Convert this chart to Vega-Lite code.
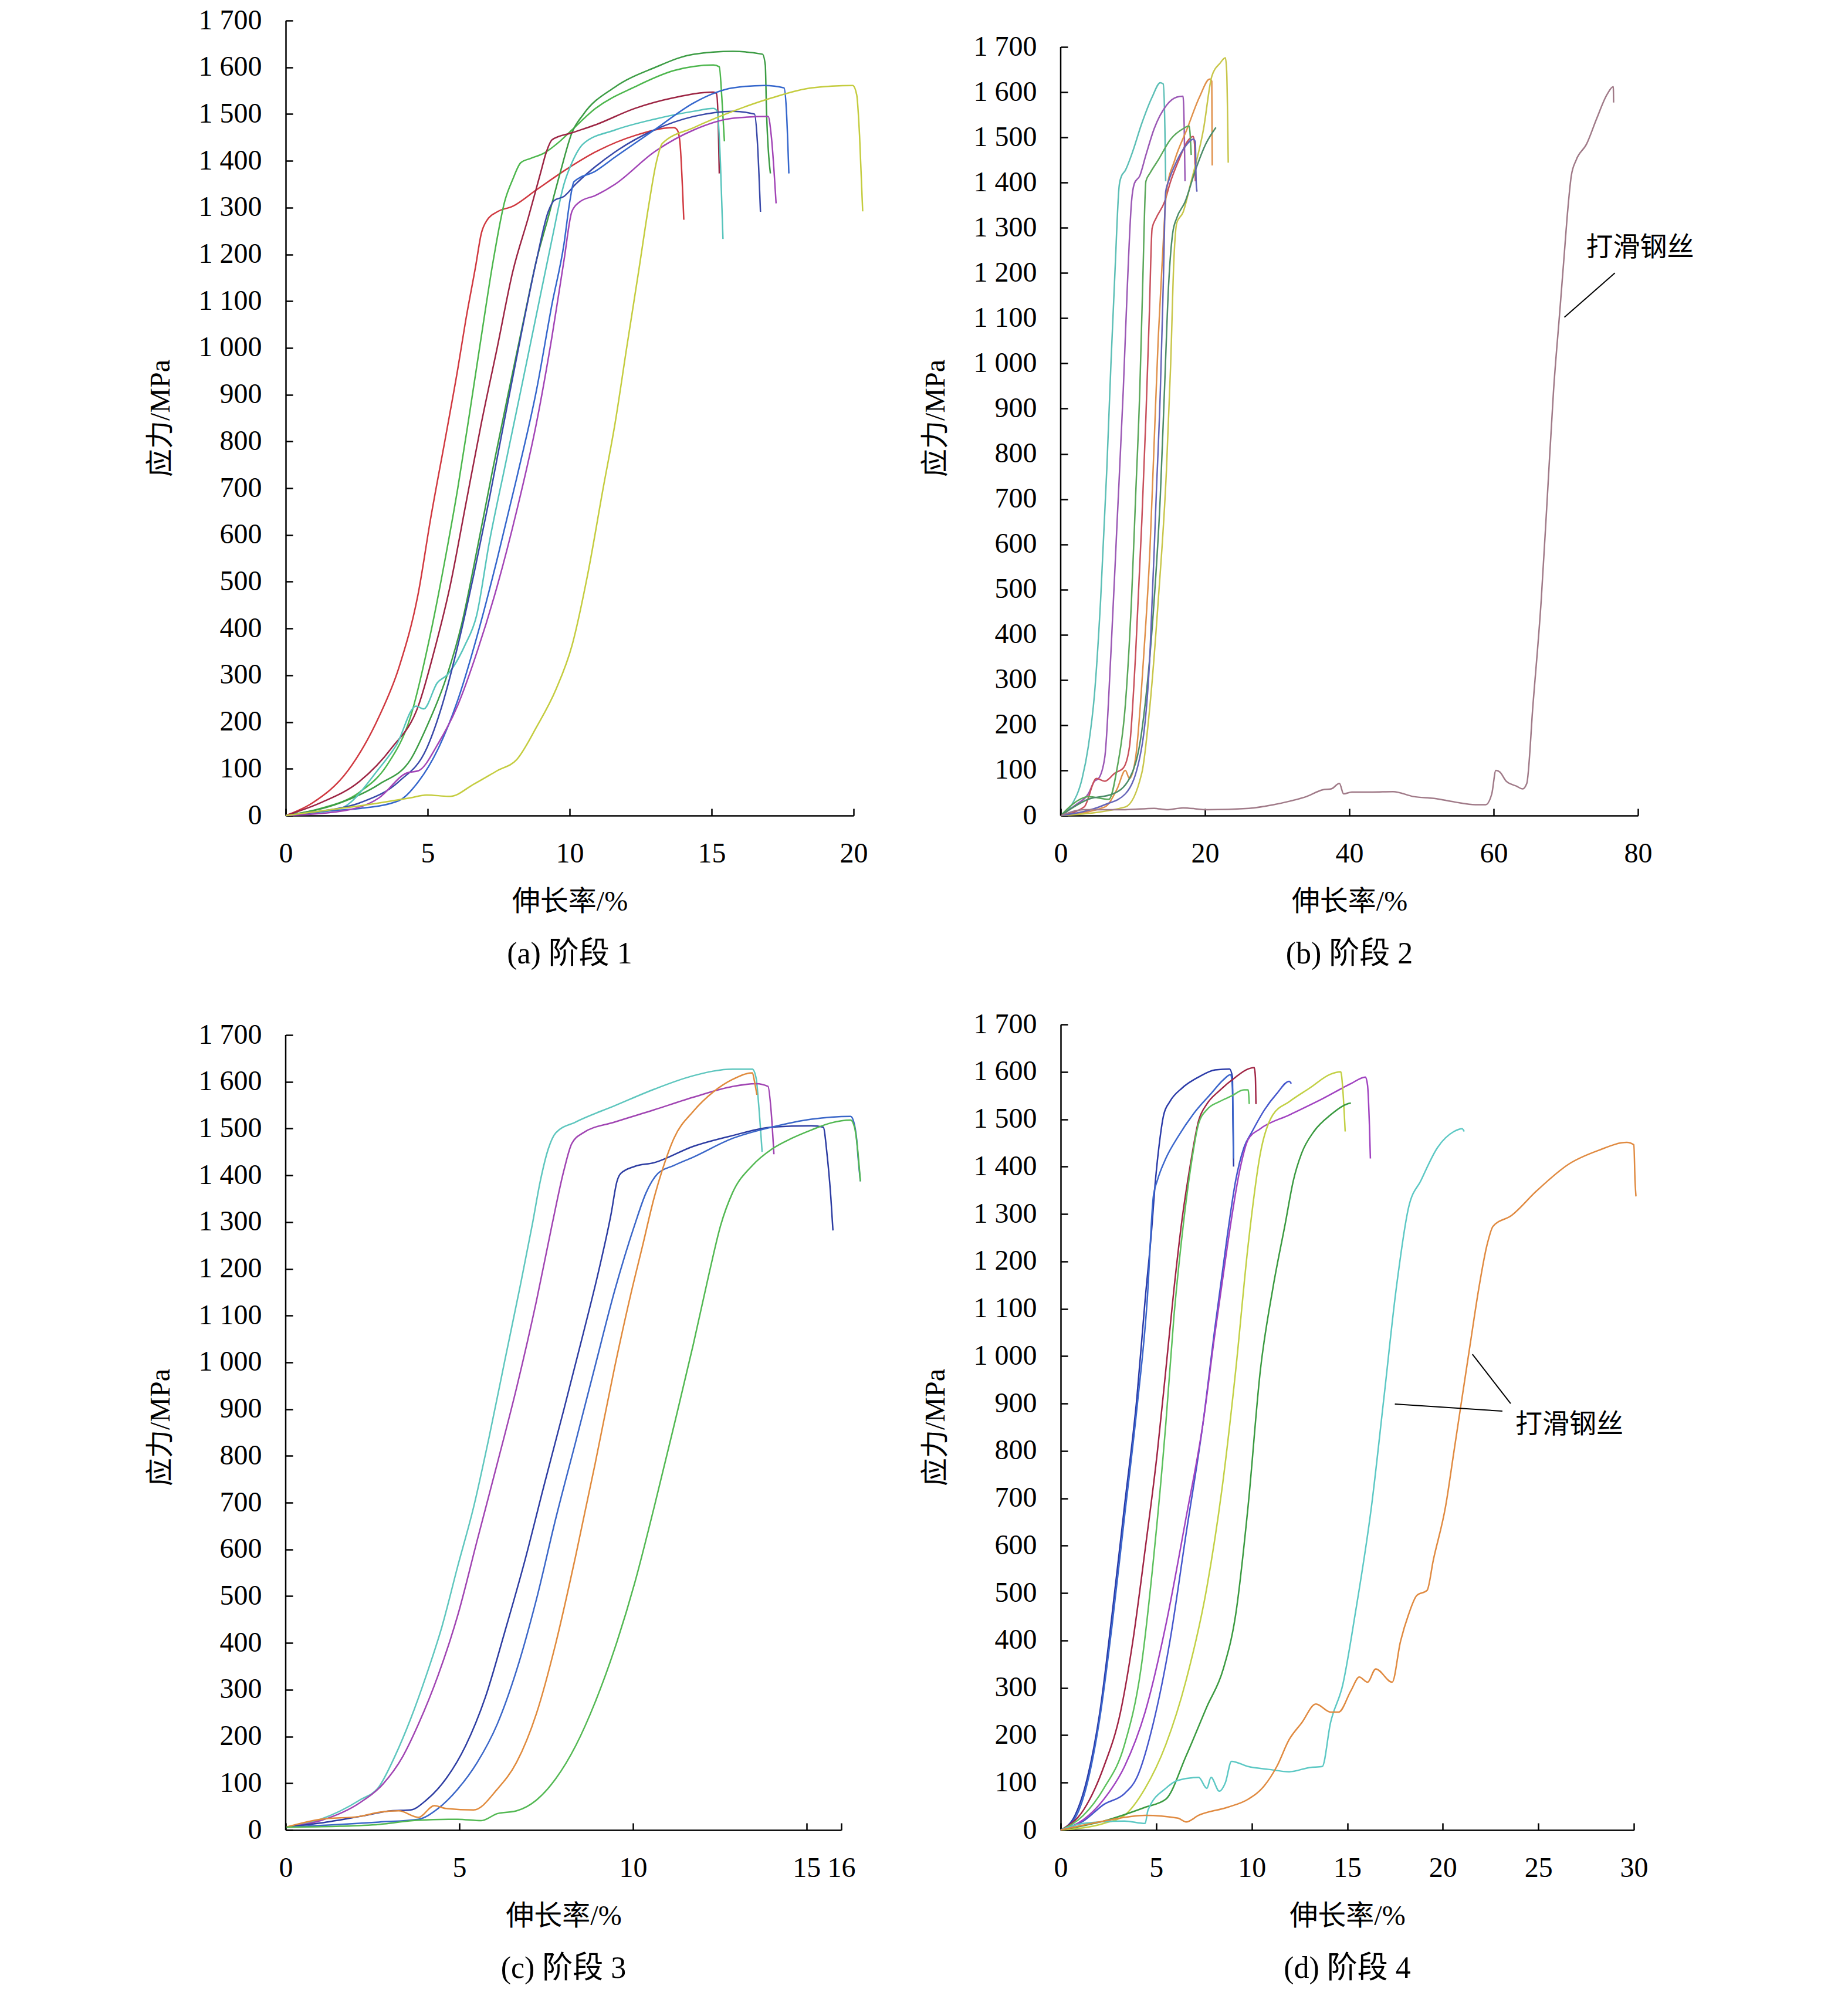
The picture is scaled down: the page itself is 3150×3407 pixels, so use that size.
{
  "$schema": "https://vega.github.io/schema/vega-lite/v6.json",
  "background": "white",
  "padding": {"left": 250, "top": 11, "right": 10, "bottom": 10},
  "columns": 2,
  "spacing": {"row": 70, "column": 92},
  "resolve": {"scale": {"color": "independent", "x": "independent", "y": "independent"}},
  "config": {
    "view": {"stroke": null},
    "font": "Liberation Serif",
    "axis": {
      "domainColor": "black", "domainWidth": 2.5,
      "tickColor": "black", "tickWidth": 2.5, "tickSize": -12,
      "labelPadding": 53, "labelFontSize": 48, "labelFont": "Liberation Serif", "labelColor": "black",
      "labelFlush": false, "labelOverlap": false, "grid": false,
      "titleFont": "Liberation Serif, Noto Sans CJK SC", "titleFontSize": 48, "titleFontWeight": "normal", "titleColor": "black"
    },
    "axisX": {"titlePadding": 34, "format": "d"},
    "axisY": {"titlePadding": 40},
    "title": {"orient": "bottom", "frame": "group", "fontSize": 52, "fontWeight": "normal", "font": "Liberation Serif, Noto Sans CJK SC", "color": "black", "offset": 40},
    "line": {"interpolate": "monotone", "strokeWidth": 2.5},
    "text": {"font": "Noto Sans CJK SC", "fontSize": 46, "color": "black"}
  },
  "concat": [
    {
      "width": 968, "height": 1355,
      "title": "(a) 阶段 1",
      "data": {"name": "a"},
      "mark": {"type": "line"},
      "encoding": {
        "x": {"field": "x", "type": "quantitative", "scale": {"domain": [0, 20], "nice": false}, "axis": {"values": [0, 5, 10, 15, 20], "title": "伸长率/%"}},
        "y": {"field": "y", "type": "quantitative", "scale": {"domain": [0, 1700], "nice": false}, "axis": {"values": [0, 100, 200, 300, 400, 500, 600, 700, 800, 900, 1000, 1100, 1200, 1300, 1400, 1500, 1600, 1700], "title": "应力/MPa", "labelExpr": "datum.value >= 1000 ? '1 ' + format(datum.value - 1000, '03d') : format(datum.value, 'd')"}},
        "color": {"field": "s", "type": "nominal", "legend": null, "scale": {
          "domain": ["red", "maroon", "greenA", "greenB", "cyan", "navy", "blue", "purple", "yellow"],
          "range": ["#d0383f", "#9c2443", "#4cb64c", "#3c9c44", "#56c4bc", "#3848a8", "#3466cc", "#a244b6", "#c4cc3e"]}},
        "order": {"value": null}
      }
    },
    {
      "width": 984, "height": 1355,
      "title": "(b) 阶段 2",
      "layer": [
        {
          "data": {"name": "b"},
          "mark": {"type": "line"},
          "encoding": {
            "x": {"field": "x", "type": "quantitative", "scale": {"domain": [0, 80], "nice": false}, "axis": {"values": [0, 20, 40, 60, 80], "title": "伸长率/%"}},
            "y": {"field": "y", "type": "quantitative", "scale": {"domain": [0, 1758.4], "nice": false}, "axis": {"domain": false, "values": [0, 100, 200, 300, 400, 500, 600, 700, 800, 900, 1000, 1100, 1200, 1300, 1400, 1500, 1600, 1700], "title": "应力/MPa", "labelExpr": "datum.value >= 1000 ? '1 ' + format(datum.value - 1000, '03d') : format(datum.value, 'd')"}},
            "color": {"field": "s", "type": "nominal", "legend": null, "scale": {
              "domain": ["cyan", "purple", "red", "orange", "yellow", "green", "dkgreen", "blue", "slip"],
              "range": ["#5cbfb6", "#9b58b5", "#c8505c", "#e0904a", "#c8c64a", "#5aa85a", "#4c8c68", "#6464b8", "#a07a88"]}},
            "order": {"value": null}
          }
        },
        {
          "data": {"values": [{"x": 0, "y": 0, "y2": 1700}]},
          "mark": {"type": "rule", "strokeWidth": 2.5, "color": "black"},
          "encoding": {"x": {"field": "x", "type": "quantitative"}, "y": {"field": "y", "type": "quantitative"}, "y2": {"field": "y2"}}
        },
        {
          "data": {"values": [{"x": 76.8, "y": 1200, "x2": 69.8, "y2": 1102}]},
          "mark": {"type": "rule", "strokeWidth": 2, "color": "black"},
          "encoding": {"x": {"field": "x", "type": "quantitative"}, "y": {"field": "y", "type": "quantitative"}, "x2": {"field": "x2"}, "y2": {"field": "y2"}}
        },
        {
          "data": {"values": [{"x": 72.8, "y": 1256, "t": "打滑钢丝"}]},
          "mark": {"type": "text", "align": "left", "baseline": "middle"},
          "encoding": {"x": {"field": "x", "type": "quantitative"}, "y": {"field": "y", "type": "quantitative"}, "text": {"field": "t"}}
        }
      ]
    },
    {
      "width": 947, "height": 1373,
      "title": "(c) 阶段 3",
      "layer": [
        {
          "data": {"name": "c"},
          "mark": {"type": "line"},
          "encoding": {
            "x": {"field": "x", "type": "quantitative", "scale": {"domain": [0, 16], "nice": false}, "axis": {"values": [0, 5, 10, 15, 16], "title": "伸长率/%"}},
            "y": {"field": "y", "type": "quantitative", "scale": {"domain": [0, 1722.6], "nice": false}, "axis": {"domain": false, "values": [0, 100, 200, 300, 400, 500, 600, 700, 800, 900, 1000, 1100, 1200, 1300, 1400, 1500, 1600, 1700], "title": "应力/MPa", "labelExpr": "datum.value >= 1000 ? '1 ' + format(datum.value - 1000, '03d') : format(datum.value, 'd')"}},
            "color": {"field": "s", "type": "nominal", "legend": null, "scale": {
              "domain": ["cyan", "purple", "navy", "blue", "orange", "green"],
              "range": ["#5ec6be", "#a044b2", "#2c3ca2", "#3a66c8", "#e08a3c", "#52b852"]}},
            "order": {"value": null}
          }
        },
        {
          "data": {"values": [{"x": 0, "y": 0, "y2": 1700}]},
          "mark": {"type": "rule", "strokeWidth": 2.5, "color": "black"},
          "encoding": {"x": {"field": "x", "type": "quantitative"}, "y": {"field": "y", "type": "quantitative"}, "y2": {"field": "y2"}}
        }
      ]
    },
    {
      "width": 977, "height": 1373,
      "title": "(d) 阶段 4",
      "layer": [
        {
          "data": {"name": "d"},
          "mark": {"type": "line"},
          "encoding": {
            "x": {"field": "x", "type": "quantitative", "scale": {"domain": [0, 30], "nice": false}, "axis": {"values": [0, 5, 10, 15, 20, 25, 30], "title": "伸长率/%"}},
            "y": {"field": "y", "type": "quantitative", "scale": {"domain": [0, 1700], "nice": false}, "axis": {"values": [0, 100, 200, 300, 400, 500, 600, 700, 800, 900, 1000, 1100, 1200, 1300, 1400, 1500, 1600, 1700], "title": "应力/MPa", "labelExpr": "datum.value >= 1000 ? '1 ' + format(datum.value - 1000, '03d') : format(datum.value, 'd')"}},
            "color": {"field": "s", "type": "nominal", "legend": null, "scale": {
              "domain": ["navy", "blue", "maroon", "ltgreen", "blue2", "purple", "yellow", "green", "cyan", "orange"],
              "range": ["#2a3aa8", "#3a66cc", "#a02444", "#5cc05c", "#4456cc", "#a042c0", "#c2d044", "#3a9a40", "#5cc8c4", "#e08a40"]}},
            "order": {"value": null}
          }
        },
        {
          "data": {"values": [{"x": 17.49, "y": 899, "x2": 23.12, "y2": 884}, {"x": 21.55, "y": 1004, "x2": 23.55, "y2": 900}]},
          "mark": {"type": "rule", "strokeWidth": 2, "color": "black"},
          "encoding": {"x": {"field": "x", "type": "quantitative"}, "y": {"field": "y", "type": "quantitative"}, "x2": {"field": "x2"}, "y2": {"field": "y2"}}
        },
        {
          "data": {"values": [{"x": 23.8, "y": 855, "t": "打滑钢丝"}]},
          "mark": {"type": "text", "align": "left", "baseline": "middle"},
          "encoding": {"x": {"field": "x", "type": "quantitative"}, "y": {"field": "y", "type": "quantitative"}, "text": {"field": "t"}}
        }
      ]
    }
  ],
  "datasets": {
    "a": [
      {"s": "red", "x": 0, "y": 0}, {"s": "red", "x": 0.94, "y": 27}, {"s": "red", "x": 2.19, "y": 96}, {"s": "red", "x": 3.29, "y": 212}, {"s": "red", "x": 3.99, "y": 317}, {"s": "red", "x": 4.68, "y": 479}, {"s": "red", "x": 5.09, "y": 630}, {"s": "red", "x": 5.65, "y": 816}, {"s": "red", "x": 6.06, "y": 955}, {"s": "red", "x": 6.34, "y": 1059}, {"s": "red", "x": 6.69, "y": 1175}, {"s": "red", "x": 6.89, "y": 1245}, {"s": "red", "x": 7.1, "y": 1274}, {"s": "red", "x": 7.45, "y": 1291}, {"s": "red", "x": 8.0, "y": 1303}, {"s": "red", "x": 8.83, "y": 1338}, {"s": "red", "x": 9.94, "y": 1384}, {"s": "red", "x": 10.91, "y": 1419}, {"s": "red", "x": 12.29, "y": 1454}, {"s": "red", "x": 13.67, "y": 1471}, {"s": "red", "x": 13.79, "y": 1466}, {"s": "red", "x": 13.88, "y": 1442}, {"s": "red", "x": 14.02, "y": 1274},
      {"s": "greenA", "x": 0, "y": 0}, {"s": "greenA", "x": 1.22, "y": 15}, {"s": "greenA", "x": 2.6, "y": 50}, {"s": "greenA", "x": 3.57, "y": 108}, {"s": "greenA", "x": 4.4, "y": 212}, {"s": "greenA", "x": 5.09, "y": 386}, {"s": "greenA", "x": 5.65, "y": 560}, {"s": "greenA", "x": 6.06, "y": 700}, {"s": "greenA", "x": 6.48, "y": 862}, {"s": "greenA", "x": 6.89, "y": 1025}, {"s": "greenA", "x": 7.31, "y": 1187}, {"s": "greenA", "x": 7.72, "y": 1315}, {"s": "greenA", "x": 8.0, "y": 1361}, {"s": "greenA", "x": 8.28, "y": 1396}, {"s": "greenA", "x": 8.62, "y": 1405}, {"s": "greenA", "x": 9.11, "y": 1417}, {"s": "greenA", "x": 9.66, "y": 1442}, {"s": "greenA", "x": 10.08, "y": 1466}, {"s": "greenA", "x": 10.91, "y": 1512}, {"s": "greenA", "x": 12.29, "y": 1558}, {"s": "greenA", "x": 13.67, "y": 1593}, {"s": "greenA", "x": 15.06, "y": 1605}, {"s": "greenA", "x": 15.27, "y": 1601}, {"s": "greenA", "x": 15.36, "y": 1535}, {"s": "greenA", "x": 15.45, "y": 1442},
      {"s": "greenB", "x": 0, "y": 0}, {"s": "greenB", "x": 1.91, "y": 27}, {"s": "greenB", "x": 3.29, "y": 67}, {"s": "greenB", "x": 4.4, "y": 120}, {"s": "greenB", "x": 4.96, "y": 189}, {"s": "greenB", "x": 5.65, "y": 294}, {"s": "greenB", "x": 6.2, "y": 410}, {"s": "greenB", "x": 6.75, "y": 572}, {"s": "greenB", "x": 7.31, "y": 746}, {"s": "greenB", "x": 7.86, "y": 909}, {"s": "greenB", "x": 8.42, "y": 1071}, {"s": "greenB", "x": 8.83, "y": 1187}, {"s": "greenB", "x": 9.25, "y": 1280}, {"s": "greenB", "x": 9.66, "y": 1373}, {"s": "greenB", "x": 10.08, "y": 1460}, {"s": "greenB", "x": 10.49, "y": 1500}, {"s": "greenB", "x": 11.6, "y": 1558}, {"s": "greenB", "x": 12.98, "y": 1599}, {"s": "greenB", "x": 14.37, "y": 1628}, {"s": "greenB", "x": 15.75, "y": 1634}, {"s": "greenB", "x": 16.79, "y": 1628}, {"s": "greenB", "x": 16.89, "y": 1605}, {"s": "greenB", "x": 16.93, "y": 1512}, {"s": "greenB", "x": 17.07, "y": 1373},
      {"s": "maroon", "x": 0, "y": 0}, {"s": "maroon", "x": 1.22, "y": 27}, {"s": "maroon", "x": 2.6, "y": 73}, {"s": "maroon", "x": 3.71, "y": 143}, {"s": "maroon", "x": 4.68, "y": 236}, {"s": "maroon", "x": 5.23, "y": 352}, {"s": "maroon", "x": 5.79, "y": 491}, {"s": "maroon", "x": 6.34, "y": 665}, {"s": "maroon", "x": 6.89, "y": 839}, {"s": "maroon", "x": 7.45, "y": 1001}, {"s": "maroon", "x": 8.0, "y": 1164}, {"s": "maroon", "x": 8.55, "y": 1280}, {"s": "maroon", "x": 8.97, "y": 1373}, {"s": "maroon", "x": 9.18, "y": 1419}, {"s": "maroon", "x": 9.38, "y": 1445}, {"s": "maroon", "x": 10.08, "y": 1460}, {"s": "maroon", "x": 10.91, "y": 1477}, {"s": "maroon", "x": 12.29, "y": 1512}, {"s": "maroon", "x": 13.67, "y": 1535}, {"s": "maroon", "x": 15.06, "y": 1547}, {"s": "maroon", "x": 15.17, "y": 1544}, {"s": "maroon", "x": 15.23, "y": 1489}, {"s": "maroon", "x": 15.27, "y": 1373},
      {"s": "cyan", "x": 0, "y": 0}, {"s": "cyan", "x": 1.91, "y": 15}, {"s": "cyan", "x": 3.28, "y": 100}, {"s": "cyan", "x": 3.9, "y": 151}, {"s": "cyan", "x": 4.59, "y": 234}, {"s": "cyan", "x": 4.86, "y": 228}, {"s": "cyan", "x": 5.34, "y": 284}, {"s": "cyan", "x": 5.69, "y": 301}, {"s": "cyan", "x": 6.31, "y": 364}, {"s": "cyan", "x": 6.72, "y": 427}, {"s": "cyan", "x": 7.17, "y": 584}, {"s": "cyan", "x": 7.72, "y": 746}, {"s": "cyan", "x": 8.28, "y": 909}, {"s": "cyan", "x": 8.83, "y": 1071}, {"s": "cyan", "x": 9.38, "y": 1233}, {"s": "cyan", "x": 9.8, "y": 1350}, {"s": "cyan", "x": 10.08, "y": 1396}, {"s": "cyan", "x": 10.49, "y": 1437}, {"s": "cyan", "x": 11.6, "y": 1466}, {"s": "cyan", "x": 12.98, "y": 1489}, {"s": "cyan", "x": 14.37, "y": 1506}, {"s": "cyan", "x": 15.06, "y": 1512}, {"s": "cyan", "x": 15.2, "y": 1506}, {"s": "cyan", "x": 15.31, "y": 1396}, {"s": "cyan", "x": 15.4, "y": 1233},
      {"s": "navy", "x": 0, "y": 0}, {"s": "navy", "x": 1.22, "y": 9}, {"s": "navy", "x": 2.6, "y": 27}, {"s": "navy", "x": 3.99, "y": 73}, {"s": "navy", "x": 4.96, "y": 143}, {"s": "navy", "x": 5.51, "y": 236}, {"s": "navy", "x": 6.06, "y": 363}, {"s": "navy", "x": 6.62, "y": 514}, {"s": "navy", "x": 7.17, "y": 677}, {"s": "navy", "x": 7.72, "y": 851}, {"s": "navy", "x": 8.28, "y": 1025}, {"s": "navy", "x": 8.83, "y": 1187}, {"s": "navy", "x": 9.25, "y": 1292}, {"s": "navy", "x": 9.45, "y": 1315}, {"s": "navy", "x": 9.8, "y": 1324}, {"s": "navy", "x": 10.21, "y": 1350}, {"s": "navy", "x": 11.6, "y": 1419}, {"s": "navy", "x": 12.98, "y": 1466}, {"s": "navy", "x": 14.37, "y": 1495}, {"s": "navy", "x": 15.75, "y": 1506}, {"s": "navy", "x": 16.51, "y": 1500}, {"s": "navy", "x": 16.61, "y": 1442}, {"s": "navy", "x": 16.72, "y": 1291},
      {"s": "blue", "x": 0, "y": 0}, {"s": "blue", "x": 1.22, "y": 9}, {"s": "blue", "x": 2.6, "y": 15}, {"s": "blue", "x": 3.99, "y": 32}, {"s": "blue", "x": 4.68, "y": 73}, {"s": "blue", "x": 5.37, "y": 143}, {"s": "blue", "x": 6.06, "y": 247}, {"s": "blue", "x": 6.75, "y": 386}, {"s": "blue", "x": 7.45, "y": 549}, {"s": "blue", "x": 8.14, "y": 723}, {"s": "blue", "x": 8.83, "y": 909}, {"s": "blue", "x": 9.38, "y": 1094}, {"s": "blue", "x": 9.8, "y": 1222}, {"s": "blue", "x": 10.01, "y": 1315}, {"s": "blue", "x": 10.15, "y": 1355}, {"s": "blue", "x": 10.91, "y": 1378}, {"s": "blue", "x": 11.6, "y": 1408}, {"s": "blue", "x": 12.98, "y": 1466}, {"s": "blue", "x": 14.37, "y": 1524}, {"s": "blue", "x": 15.06, "y": 1544}, {"s": "blue", "x": 15.75, "y": 1556}, {"s": "blue", "x": 16.86, "y": 1561}, {"s": "blue", "x": 17.55, "y": 1556}, {"s": "blue", "x": 17.63, "y": 1512}, {"s": "blue", "x": 17.72, "y": 1373},
      {"s": "purple", "x": 0, "y": 0}, {"s": "purple", "x": 1.91, "y": 9}, {"s": "purple", "x": 3.29, "y": 38}, {"s": "purple", "x": 4.26, "y": 91}, {"s": "purple", "x": 4.68, "y": 96}, {"s": "purple", "x": 5.37, "y": 154}, {"s": "purple", "x": 6.06, "y": 236}, {"s": "purple", "x": 6.75, "y": 352}, {"s": "purple", "x": 7.45, "y": 491}, {"s": "purple", "x": 8.14, "y": 653}, {"s": "purple", "x": 8.83, "y": 839}, {"s": "purple", "x": 9.38, "y": 1025}, {"s": "purple", "x": 9.8, "y": 1187}, {"s": "purple", "x": 10.08, "y": 1292}, {"s": "purple", "x": 10.35, "y": 1312}, {"s": "purple", "x": 10.91, "y": 1326}, {"s": "purple", "x": 11.6, "y": 1350}, {"s": "purple", "x": 12.98, "y": 1419}, {"s": "purple", "x": 14.37, "y": 1466}, {"s": "purple", "x": 15.75, "y": 1491}, {"s": "purple", "x": 16.99, "y": 1495}, {"s": "purple", "x": 17.1, "y": 1454}, {"s": "purple", "x": 17.27, "y": 1309},
      {"s": "yellow", "x": 0, "y": 0}, {"s": "yellow", "x": 1.91, "y": 15}, {"s": "yellow", "x": 3.29, "y": 27}, {"s": "yellow", "x": 4.4, "y": 38}, {"s": "yellow", "x": 4.96, "y": 44}, {"s": "yellow", "x": 5.79, "y": 41}, {"s": "yellow", "x": 6.62, "y": 67}, {"s": "yellow", "x": 7.45, "y": 96}, {"s": "yellow", "x": 8.14, "y": 120}, {"s": "yellow", "x": 8.83, "y": 189}, {"s": "yellow", "x": 9.52, "y": 270}, {"s": "yellow", "x": 10.08, "y": 363}, {"s": "yellow", "x": 10.63, "y": 514}, {"s": "yellow", "x": 11.18, "y": 700}, {"s": "yellow", "x": 11.6, "y": 839}, {"s": "yellow", "x": 12.01, "y": 1001}, {"s": "yellow", "x": 12.43, "y": 1164}, {"s": "yellow", "x": 12.78, "y": 1303}, {"s": "yellow", "x": 13.05, "y": 1396}, {"s": "yellow", "x": 13.26, "y": 1437}, {"s": "yellow", "x": 14.37, "y": 1471}, {"s": "yellow", "x": 15.75, "y": 1506}, {"s": "yellow", "x": 17.14, "y": 1535}, {"s": "yellow", "x": 18.52, "y": 1556}, {"s": "yellow", "x": 19.97, "y": 1561}, {"s": "yellow", "x": 20.11, "y": 1541}, {"s": "yellow", "x": 20.21, "y": 1454}, {"s": "yellow", "x": 20.32, "y": 1292}
    ],
    "b": [
      {"s": "cyan", "x": 0, "y": 0}, {"s": "cyan", "x": 1.54, "y": 24}, {"s": "cyan", "x": 2.97, "y": 82}, {"s": "cyan", "x": 3.82, "y": 152}, {"s": "cyan", "x": 4.68, "y": 268}, {"s": "cyan", "x": 5.53, "y": 476}, {"s": "cyan", "x": 6.39, "y": 766}, {"s": "cyan", "x": 6.96, "y": 998}, {"s": "cyan", "x": 7.53, "y": 1206}, {"s": "cyan", "x": 8.1, "y": 1392}, {"s": "cyan", "x": 8.39, "y": 1413}, {"s": "cyan", "x": 8.96, "y": 1427}, {"s": "cyan", "x": 9.81, "y": 1461}, {"s": "cyan", "x": 11.24, "y": 1531}, {"s": "cyan", "x": 12.67, "y": 1589}, {"s": "cyan", "x": 13.81, "y": 1621}, {"s": "cyan", "x": 14.21, "y": 1618}, {"s": "cyan", "x": 14.44, "y": 1519}, {"s": "cyan", "x": 14.55, "y": 1403},
      {"s": "purple", "x": 0, "y": 0}, {"s": "purple", "x": 2.11, "y": 24}, {"s": "purple", "x": 3.82, "y": 48}, {"s": "purple", "x": 4.68, "y": 76}, {"s": "purple", "x": 5.25, "y": 82}, {"s": "purple", "x": 6.11, "y": 129}, {"s": "purple", "x": 6.96, "y": 360}, {"s": "purple", "x": 7.82, "y": 650}, {"s": "purple", "x": 8.67, "y": 940}, {"s": "purple", "x": 9.24, "y": 1172}, {"s": "purple", "x": 9.81, "y": 1357}, {"s": "purple", "x": 10.21, "y": 1398}, {"s": "purple", "x": 10.96, "y": 1415}, {"s": "purple", "x": 11.81, "y": 1461}, {"s": "purple", "x": 12.95, "y": 1519}, {"s": "purple", "x": 14.66, "y": 1571}, {"s": "purple", "x": 16.09, "y": 1589}, {"s": "purple", "x": 16.95, "y": 1591}, {"s": "purple", "x": 17.12, "y": 1519}, {"s": "purple", "x": 17.23, "y": 1403},
      {"s": "red", "x": 0, "y": 0}, {"s": "red", "x": 3.25, "y": 19}, {"s": "red", "x": 4.96, "y": 82}, {"s": "red", "x": 6.11, "y": 76}, {"s": "red", "x": 7.53, "y": 94}, {"s": "red", "x": 8.67, "y": 105}, {"s": "red", "x": 9.53, "y": 152}, {"s": "red", "x": 10.39, "y": 360}, {"s": "red", "x": 11.24, "y": 650}, {"s": "red", "x": 11.81, "y": 882}, {"s": "red", "x": 12.27, "y": 1102}, {"s": "red", "x": 12.67, "y": 1299}, {"s": "red", "x": 13.24, "y": 1322}, {"s": "red", "x": 14.38, "y": 1357}, {"s": "red", "x": 15.24, "y": 1403}, {"s": "red", "x": 16.38, "y": 1450}, {"s": "red", "x": 17.52, "y": 1490}, {"s": "red", "x": 18.37, "y": 1502}, {"s": "red", "x": 18.55, "y": 1485}, {"s": "red", "x": 18.66, "y": 1403},
      {"s": "orange", "x": 0, "y": 0}, {"s": "orange", "x": 6.11, "y": 19}, {"s": "orange", "x": 7.82, "y": 59}, {"s": "orange", "x": 8.96, "y": 100}, {"s": "orange", "x": 9.53, "y": 82}, {"s": "orange", "x": 10.39, "y": 129}, {"s": "orange", "x": 11.53, "y": 360}, {"s": "orange", "x": 12.38, "y": 592}, {"s": "orange", "x": 12.95, "y": 824}, {"s": "orange", "x": 13.52, "y": 1056}, {"s": "orange", "x": 14.09, "y": 1230}, {"s": "orange", "x": 14.66, "y": 1380}, {"s": "orange", "x": 15.81, "y": 1450}, {"s": "orange", "x": 17.52, "y": 1519}, {"s": "orange", "x": 19.23, "y": 1589}, {"s": "orange", "x": 20.66, "y": 1629}, {"s": "orange", "x": 20.94, "y": 1624}, {"s": "orange", "x": 21.0, "y": 1438},
      {"s": "yellow", "x": 0, "y": 0}, {"s": "yellow", "x": 8.96, "y": 19}, {"s": "yellow", "x": 11.24, "y": 94}, {"s": "yellow", "x": 12.38, "y": 245}, {"s": "yellow", "x": 13.52, "y": 476}, {"s": "yellow", "x": 14.66, "y": 766}, {"s": "yellow", "x": 15.24, "y": 998}, {"s": "yellow", "x": 15.69, "y": 1230}, {"s": "yellow", "x": 16.09, "y": 1311}, {"s": "yellow", "x": 16.95, "y": 1334}, {"s": "yellow", "x": 18.09, "y": 1403}, {"s": "yellow", "x": 19.8, "y": 1519}, {"s": "yellow", "x": 20.94, "y": 1635}, {"s": "yellow", "x": 22.08, "y": 1664}, {"s": "yellow", "x": 22.82, "y": 1676}, {"s": "yellow", "x": 23.0, "y": 1647}, {"s": "yellow", "x": 23.22, "y": 1444},
      {"s": "green", "x": 0, "y": 0}, {"s": "green", "x": 2.68, "y": 36}, {"s": "green", "x": 3.82, "y": 42}, {"s": "green", "x": 6.68, "y": 36}, {"s": "green", "x": 7.82, "y": 105}, {"s": "green", "x": 8.96, "y": 245}, {"s": "green", "x": 9.81, "y": 476}, {"s": "green", "x": 10.39, "y": 708}, {"s": "green", "x": 10.96, "y": 940}, {"s": "green", "x": 11.36, "y": 1172}, {"s": "green", "x": 11.81, "y": 1403}, {"s": "green", "x": 12.38, "y": 1421}, {"s": "green", "x": 13.52, "y": 1450}, {"s": "green", "x": 15.24, "y": 1496}, {"s": "green", "x": 16.95, "y": 1519}, {"s": "green", "x": 17.8, "y": 1525}, {"s": "green", "x": 18.09, "y": 1461},
      {"s": "dkgreen", "x": 0, "y": 0}, {"s": "dkgreen", "x": 3.82, "y": 36}, {"s": "dkgreen", "x": 7.25, "y": 48}, {"s": "dkgreen", "x": 9.53, "y": 82}, {"s": "dkgreen", "x": 11.24, "y": 187}, {"s": "dkgreen", "x": 12.95, "y": 476}, {"s": "dkgreen", "x": 13.81, "y": 708}, {"s": "dkgreen", "x": 14.38, "y": 940}, {"s": "dkgreen", "x": 14.95, "y": 1172}, {"s": "dkgreen", "x": 15.52, "y": 1288}, {"s": "dkgreen", "x": 16.09, "y": 1322}, {"s": "dkgreen", "x": 17.23, "y": 1357}, {"s": "dkgreen", "x": 18.66, "y": 1427}, {"s": "dkgreen", "x": 20.09, "y": 1485}, {"s": "dkgreen", "x": 21.51, "y": 1522},
      {"s": "blue", "x": 0, "y": 0}, {"s": "blue", "x": 6.11, "y": 24}, {"s": "blue", "x": 8.96, "y": 48}, {"s": "blue", "x": 11.24, "y": 152}, {"s": "blue", "x": 12.38, "y": 360}, {"s": "blue", "x": 13.24, "y": 708}, {"s": "blue", "x": 13.81, "y": 940}, {"s": "blue", "x": 14.21, "y": 1172}, {"s": "blue", "x": 14.55, "y": 1380}, {"s": "blue", "x": 14.95, "y": 1403}, {"s": "blue", "x": 15.81, "y": 1438}, {"s": "blue", "x": 17.23, "y": 1479}, {"s": "blue", "x": 18.37, "y": 1496}, {"s": "blue", "x": 18.66, "y": 1490}, {"s": "blue", "x": 18.77, "y": 1403}, {"s": "blue", "x": 18.89, "y": 1380},
      {"s": "slip", "x": 0, "y": 0}, {"s": "slip", "x": 3.25, "y": 13}, {"s": "slip", "x": 8.96, "y": 13}, {"s": "slip", "x": 12.95, "y": 16}, {"s": "slip", "x": 14.66, "y": 13}, {"s": "slip", "x": 16.95, "y": 17}, {"s": "slip", "x": 20.37, "y": 13}, {"s": "slip", "x": 26.08, "y": 16}, {"s": "slip", "x": 29.5, "y": 24}, {"s": "slip", "x": 31.78, "y": 32}, {"s": "slip", "x": 34.07, "y": 42}, {"s": "slip", "x": 36.35, "y": 57}, {"s": "slip", "x": 37.49, "y": 59}, {"s": "slip", "x": 38.63, "y": 71}, {"s": "slip", "x": 39.2, "y": 48}, {"s": "slip", "x": 40.34, "y": 52}, {"s": "slip", "x": 43.2, "y": 52}, {"s": "slip", "x": 46.05, "y": 53}, {"s": "slip", "x": 48.9, "y": 42}, {"s": "slip", "x": 51.75, "y": 38}, {"s": "slip", "x": 54.61, "y": 30}, {"s": "slip", "x": 57.46, "y": 24}, {"s": "slip", "x": 58.89, "y": 24}, {"s": "slip", "x": 59.74, "y": 48}, {"s": "slip", "x": 60.31, "y": 100}, {"s": "slip", "x": 60.88, "y": 96}, {"s": "slip", "x": 61.74, "y": 76}, {"s": "slip", "x": 63.17, "y": 65}, {"s": "slip", "x": 64.02, "y": 59}, {"s": "slip", "x": 64.59, "y": 71}, {"s": "slip", "x": 65.45, "y": 245}, {"s": "slip", "x": 66.59, "y": 476}, {"s": "slip", "x": 67.45, "y": 708}, {"s": "slip", "x": 68.3, "y": 940}, {"s": "slip", "x": 69.16, "y": 1114}, {"s": "slip", "x": 69.73, "y": 1230}, {"s": "slip", "x": 70.3, "y": 1345}, {"s": "slip", "x": 70.76, "y": 1415}, {"s": "slip", "x": 71.44, "y": 1450}, {"s": "slip", "x": 72.87, "y": 1485}, {"s": "slip", "x": 74.29, "y": 1542}, {"s": "slip", "x": 75.72, "y": 1595}, {"s": "slip", "x": 76.58, "y": 1612}, {"s": "slip", "x": 76.62, "y": 1577}
    ],
    "c": [
      {"s": "cyan", "x": 0, "y": 6}, {"s": "cyan", "x": 1.0, "y": 23}, {"s": "cyan", "x": 2.13, "y": 64}, {"s": "cyan", "x": 2.69, "y": 93}, {"s": "cyan", "x": 3.14, "y": 157}, {"s": "cyan", "x": 3.6, "y": 238}, {"s": "cyan", "x": 4.05, "y": 331}, {"s": "cyan", "x": 4.5, "y": 435}, {"s": "cyan", "x": 4.95, "y": 563}, {"s": "cyan", "x": 5.41, "y": 690}, {"s": "cyan", "x": 5.86, "y": 841}, {"s": "cyan", "x": 6.31, "y": 1004}, {"s": "cyan", "x": 6.76, "y": 1166}, {"s": "cyan", "x": 7.1, "y": 1294}, {"s": "cyan", "x": 7.33, "y": 1387}, {"s": "cyan", "x": 7.56, "y": 1456}, {"s": "cyan", "x": 7.78, "y": 1491}, {"s": "cyan", "x": 8.35, "y": 1514}, {"s": "cyan", "x": 9.48, "y": 1549}, {"s": "cyan", "x": 10.61, "y": 1584}, {"s": "cyan", "x": 11.74, "y": 1613}, {"s": "cyan", "x": 12.87, "y": 1627}, {"s": "cyan", "x": 13.44, "y": 1627}, {"s": "cyan", "x": 13.55, "y": 1607}, {"s": "cyan", "x": 13.61, "y": 1561}, {"s": "cyan", "x": 13.72, "y": 1450},
      {"s": "purple", "x": 0, "y": 6}, {"s": "purple", "x": 1.0, "y": 20}, {"s": "purple", "x": 2.13, "y": 58}, {"s": "purple", "x": 2.81, "y": 99}, {"s": "purple", "x": 3.37, "y": 157}, {"s": "purple", "x": 3.82, "y": 226}, {"s": "purple", "x": 4.39, "y": 331}, {"s": "purple", "x": 4.95, "y": 458}, {"s": "purple", "x": 5.52, "y": 621}, {"s": "purple", "x": 6.09, "y": 783}, {"s": "purple", "x": 6.65, "y": 946}, {"s": "purple", "x": 7.22, "y": 1131}, {"s": "purple", "x": 7.67, "y": 1294}, {"s": "purple", "x": 8.01, "y": 1410}, {"s": "purple", "x": 8.24, "y": 1468}, {"s": "purple", "x": 8.57, "y": 1491}, {"s": "purple", "x": 9.48, "y": 1514}, {"s": "purple", "x": 10.61, "y": 1540}, {"s": "purple", "x": 11.74, "y": 1567}, {"s": "purple", "x": 12.87, "y": 1590}, {"s": "purple", "x": 13.55, "y": 1596}, {"s": "purple", "x": 13.89, "y": 1590}, {"s": "purple", "x": 13.98, "y": 1537}, {"s": "purple", "x": 14.06, "y": 1445},
      {"s": "navy", "x": 0, "y": 6}, {"s": "navy", "x": 1.0, "y": 15}, {"s": "navy", "x": 2.13, "y": 29}, {"s": "navy", "x": 3.03, "y": 41}, {"s": "navy", "x": 3.6, "y": 43}, {"s": "navy", "x": 4.05, "y": 64}, {"s": "navy", "x": 4.62, "y": 110}, {"s": "navy", "x": 5.18, "y": 180}, {"s": "navy", "x": 5.75, "y": 284}, {"s": "navy", "x": 6.31, "y": 424}, {"s": "navy", "x": 6.88, "y": 574}, {"s": "navy", "x": 7.44, "y": 737}, {"s": "navy", "x": 8.01, "y": 899}, {"s": "navy", "x": 8.57, "y": 1062}, {"s": "navy", "x": 9.03, "y": 1201}, {"s": "navy", "x": 9.37, "y": 1317}, {"s": "navy", "x": 9.54, "y": 1387}, {"s": "navy", "x": 9.65, "y": 1404}, {"s": "navy", "x": 10.05, "y": 1419}, {"s": "navy", "x": 10.61, "y": 1427}, {"s": "navy", "x": 11.74, "y": 1462}, {"s": "navy", "x": 12.87, "y": 1485}, {"s": "navy", "x": 14.0, "y": 1503}, {"s": "navy", "x": 15.14, "y": 1506}, {"s": "navy", "x": 15.48, "y": 1503}, {"s": "navy", "x": 15.59, "y": 1445}, {"s": "navy", "x": 15.7, "y": 1352}, {"s": "navy", "x": 15.76, "y": 1282},
      {"s": "blue", "x": 0, "y": 6}, {"s": "blue", "x": 1.56, "y": 12}, {"s": "blue", "x": 2.69, "y": 17}, {"s": "blue", "x": 3.82, "y": 23}, {"s": "blue", "x": 4.39, "y": 46}, {"s": "blue", "x": 4.95, "y": 87}, {"s": "blue", "x": 5.52, "y": 145}, {"s": "blue", "x": 6.09, "y": 226}, {"s": "blue", "x": 6.65, "y": 342}, {"s": "blue", "x": 7.22, "y": 493}, {"s": "blue", "x": 7.78, "y": 667}, {"s": "blue", "x": 8.35, "y": 830}, {"s": "blue", "x": 8.91, "y": 992}, {"s": "blue", "x": 9.48, "y": 1155}, {"s": "blue", "x": 10.05, "y": 1294}, {"s": "blue", "x": 10.38, "y": 1363}, {"s": "blue", "x": 10.72, "y": 1404}, {"s": "blue", "x": 11.18, "y": 1421}, {"s": "blue", "x": 11.74, "y": 1439}, {"s": "blue", "x": 12.87, "y": 1479}, {"s": "blue", "x": 14.0, "y": 1503}, {"s": "blue", "x": 15.14, "y": 1520}, {"s": "blue", "x": 16.27, "y": 1526}, {"s": "blue", "x": 16.36, "y": 1514}, {"s": "blue", "x": 16.44, "y": 1479}, {"s": "blue", "x": 16.49, "y": 1433}, {"s": "blue", "x": 16.55, "y": 1387},
      {"s": "orange", "x": 0, "y": 6}, {"s": "orange", "x": 1.0, "y": 23}, {"s": "orange", "x": 2.13, "y": 29}, {"s": "orange", "x": 2.69, "y": 38}, {"s": "orange", "x": 3.26, "y": 41}, {"s": "orange", "x": 3.82, "y": 27}, {"s": "orange", "x": 4.28, "y": 52}, {"s": "orange", "x": 4.62, "y": 46}, {"s": "orange", "x": 5.41, "y": 43}, {"s": "orange", "x": 6.09, "y": 87}, {"s": "orange", "x": 6.65, "y": 145}, {"s": "orange", "x": 7.22, "y": 249}, {"s": "orange", "x": 7.78, "y": 400}, {"s": "orange", "x": 8.35, "y": 586}, {"s": "orange", "x": 8.91, "y": 783}, {"s": "orange", "x": 9.48, "y": 992}, {"s": "orange", "x": 9.93, "y": 1143}, {"s": "orange", "x": 10.27, "y": 1247}, {"s": "orange", "x": 10.61, "y": 1352}, {"s": "orange", "x": 10.84, "y": 1410}, {"s": "orange", "x": 11.18, "y": 1479}, {"s": "orange", "x": 11.74, "y": 1537}, {"s": "orange", "x": 12.31, "y": 1578}, {"s": "orange", "x": 12.87, "y": 1605}, {"s": "orange", "x": 13.44, "y": 1619}, {"s": "orange", "x": 13.5, "y": 1601}, {"s": "orange", "x": 13.57, "y": 1572},
      {"s": "green", "x": 0, "y": 6}, {"s": "green", "x": 1.56, "y": 8}, {"s": "green", "x": 2.69, "y": 12}, {"s": "green", "x": 3.82, "y": 21}, {"s": "green", "x": 4.95, "y": 23}, {"s": "green", "x": 5.63, "y": 20}, {"s": "green", "x": 6.09, "y": 35}, {"s": "green", "x": 6.65, "y": 41}, {"s": "green", "x": 7.22, "y": 64}, {"s": "green", "x": 7.78, "y": 110}, {"s": "green", "x": 8.35, "y": 180}, {"s": "green", "x": 8.91, "y": 273}, {"s": "green", "x": 9.48, "y": 389}, {"s": "green", "x": 10.05, "y": 528}, {"s": "green", "x": 10.61, "y": 690}, {"s": "green", "x": 11.18, "y": 864}, {"s": "green", "x": 11.74, "y": 1039}, {"s": "green", "x": 12.19, "y": 1189}, {"s": "green", "x": 12.53, "y": 1294}, {"s": "green", "x": 12.87, "y": 1363}, {"s": "green", "x": 13.44, "y": 1421}, {"s": "green", "x": 14.0, "y": 1456}, {"s": "green", "x": 14.57, "y": 1479}, {"s": "green", "x": 15.14, "y": 1497}, {"s": "green", "x": 15.7, "y": 1512}, {"s": "green", "x": 16.27, "y": 1518}, {"s": "green", "x": 16.38, "y": 1503}, {"s": "green", "x": 16.47, "y": 1456}, {"s": "green", "x": 16.55, "y": 1387}
    ],
    "d": [
      {"s": "navy", "x": 0, "y": 0}, {"s": "navy", "x": 0.75, "y": 31}, {"s": "navy", "x": 1.4, "y": 111}, {"s": "navy", "x": 2.05, "y": 249}, {"s": "navy", "x": 2.69, "y": 455}, {"s": "navy", "x": 3.34, "y": 684}, {"s": "navy", "x": 3.99, "y": 913}, {"s": "navy", "x": 4.42, "y": 1119}, {"s": "navy", "x": 4.74, "y": 1257}, {"s": "navy", "x": 4.96, "y": 1371}, {"s": "navy", "x": 5.17, "y": 1451}, {"s": "navy", "x": 5.39, "y": 1509}, {"s": "navy", "x": 5.71, "y": 1537}, {"s": "navy", "x": 6.36, "y": 1566}, {"s": "navy", "x": 7.22, "y": 1589}, {"s": "navy", "x": 8.08, "y": 1604}, {"s": "navy", "x": 8.84, "y": 1606}, {"s": "navy", "x": 8.99, "y": 1589}, {"s": "navy", "x": 9.01, "y": 1509}, {"s": "navy", "x": 9.05, "y": 1400},
      {"s": "blue", "x": 0, "y": 0}, {"s": "blue", "x": 0.75, "y": 25}, {"s": "blue", "x": 1.4, "y": 100}, {"s": "blue", "x": 2.05, "y": 237}, {"s": "blue", "x": 2.69, "y": 432}, {"s": "blue", "x": 3.34, "y": 661}, {"s": "blue", "x": 3.99, "y": 890}, {"s": "blue", "x": 4.53, "y": 1119}, {"s": "blue", "x": 4.85, "y": 1337}, {"s": "blue", "x": 5.06, "y": 1371}, {"s": "blue", "x": 5.5, "y": 1417}, {"s": "blue", "x": 6.14, "y": 1463}, {"s": "blue", "x": 7.0, "y": 1514}, {"s": "blue", "x": 7.87, "y": 1554}, {"s": "blue", "x": 8.51, "y": 1583}, {"s": "blue", "x": 8.9, "y": 1594}, {"s": "blue", "x": 8.99, "y": 1566}, {"s": "blue", "x": 9.05, "y": 1417},
      {"s": "maroon", "x": 0, "y": 0}, {"s": "maroon", "x": 1.19, "y": 42}, {"s": "maroon", "x": 2.26, "y": 134}, {"s": "maroon", "x": 3.13, "y": 249}, {"s": "maroon", "x": 3.77, "y": 397}, {"s": "maroon", "x": 4.42, "y": 592}, {"s": "maroon", "x": 5.06, "y": 798}, {"s": "maroon", "x": 5.5, "y": 970}, {"s": "maroon", "x": 5.93, "y": 1142}, {"s": "maroon", "x": 6.36, "y": 1291}, {"s": "maroon", "x": 6.79, "y": 1405}, {"s": "maroon", "x": 7.22, "y": 1497}, {"s": "maroon", "x": 7.65, "y": 1532}, {"s": "maroon", "x": 8.3, "y": 1560}, {"s": "maroon", "x": 9.16, "y": 1589}, {"s": "maroon", "x": 9.81, "y": 1606}, {"s": "maroon", "x": 10.13, "y": 1609}, {"s": "maroon", "x": 10.19, "y": 1589}, {"s": "maroon", "x": 10.22, "y": 1532},
      {"s": "ltgreen", "x": 0, "y": 0}, {"s": "ltgreen", "x": 1.19, "y": 31}, {"s": "ltgreen", "x": 2.26, "y": 88}, {"s": "ltgreen", "x": 3.34, "y": 180}, {"s": "ltgreen", "x": 4.2, "y": 340}, {"s": "ltgreen", "x": 4.85, "y": 569}, {"s": "ltgreen", "x": 5.5, "y": 856}, {"s": "ltgreen", "x": 5.93, "y": 1085}, {"s": "ltgreen", "x": 6.36, "y": 1257}, {"s": "ltgreen", "x": 6.79, "y": 1394}, {"s": "ltgreen", "x": 7.22, "y": 1491}, {"s": "ltgreen", "x": 7.65, "y": 1520}, {"s": "ltgreen", "x": 8.3, "y": 1537}, {"s": "ltgreen", "x": 8.94, "y": 1549}, {"s": "ltgreen", "x": 9.59, "y": 1562}, {"s": "ltgreen", "x": 9.81, "y": 1562}, {"s": "ltgreen", "x": 9.87, "y": 1532},
      {"s": "blue2", "x": 0, "y": 0}, {"s": "blue2", "x": 1.19, "y": 19}, {"s": "blue2", "x": 2.26, "y": 54}, {"s": "blue2", "x": 3.34, "y": 77}, {"s": "blue2", "x": 3.99, "y": 111}, {"s": "blue2", "x": 4.85, "y": 226}, {"s": "blue2", "x": 5.71, "y": 397}, {"s": "blue2", "x": 6.57, "y": 627}, {"s": "blue2", "x": 7.44, "y": 856}, {"s": "blue2", "x": 8.08, "y": 1062}, {"s": "blue2", "x": 8.73, "y": 1257}, {"s": "blue2", "x": 9.16, "y": 1371}, {"s": "blue2", "x": 9.59, "y": 1440}, {"s": "blue2", "x": 10.02, "y": 1474}, {"s": "blue2", "x": 10.67, "y": 1520}, {"s": "blue2", "x": 11.31, "y": 1554}, {"s": "blue2", "x": 11.96, "y": 1580}, {"s": "blue2", "x": 12.07, "y": 1575},
      {"s": "purple", "x": 0, "y": 0}, {"s": "purple", "x": 1.19, "y": 22}, {"s": "purple", "x": 2.26, "y": 65}, {"s": "purple", "x": 3.34, "y": 134}, {"s": "purple", "x": 4.42, "y": 249}, {"s": "purple", "x": 5.5, "y": 432}, {"s": "purple", "x": 6.57, "y": 661}, {"s": "purple", "x": 7.44, "y": 856}, {"s": "purple", "x": 8.08, "y": 1050}, {"s": "purple", "x": 8.73, "y": 1234}, {"s": "purple", "x": 9.38, "y": 1394}, {"s": "purple", "x": 9.81, "y": 1457}, {"s": "purple", "x": 10.45, "y": 1480}, {"s": "purple", "x": 11.96, "y": 1509}, {"s": "purple", "x": 13.69, "y": 1543}, {"s": "purple", "x": 15.19, "y": 1575}, {"s": "purple", "x": 15.95, "y": 1589}, {"s": "purple", "x": 16.06, "y": 1572}, {"s": "purple", "x": 16.16, "y": 1486}, {"s": "purple", "x": 16.21, "y": 1417},
      {"s": "yellow", "x": 0, "y": 0}, {"s": "yellow", "x": 2.26, "y": 14}, {"s": "yellow", "x": 3.34, "y": 31}, {"s": "yellow", "x": 4.42, "y": 88}, {"s": "yellow", "x": 5.5, "y": 180}, {"s": "yellow", "x": 6.57, "y": 317}, {"s": "yellow", "x": 7.65, "y": 512}, {"s": "yellow", "x": 8.51, "y": 741}, {"s": "yellow", "x": 9.16, "y": 970}, {"s": "yellow", "x": 9.81, "y": 1234}, {"s": "yellow", "x": 10.45, "y": 1428}, {"s": "yellow", "x": 11.1, "y": 1509}, {"s": "yellow", "x": 11.96, "y": 1537}, {"s": "yellow", "x": 13.04, "y": 1566}, {"s": "yellow", "x": 14.12, "y": 1595}, {"s": "yellow", "x": 14.66, "y": 1600}, {"s": "yellow", "x": 14.76, "y": 1566}, {"s": "yellow", "x": 14.89, "y": 1474},
      {"s": "green", "x": 0, "y": 0}, {"s": "green", "x": 2.26, "y": 19}, {"s": "green", "x": 4.42, "y": 48}, {"s": "green", "x": 5.5, "y": 65}, {"s": "green", "x": 6.57, "y": 157}, {"s": "green", "x": 7.65, "y": 260}, {"s": "green", "x": 8.51, "y": 340}, {"s": "green", "x": 9.16, "y": 455}, {"s": "green", "x": 9.81, "y": 684}, {"s": "green", "x": 10.45, "y": 970}, {"s": "green", "x": 11.1, "y": 1142}, {"s": "green", "x": 11.75, "y": 1279}, {"s": "green", "x": 12.18, "y": 1371}, {"s": "green", "x": 12.61, "y": 1428}, {"s": "green", "x": 13.25, "y": 1474}, {"s": "green", "x": 14.12, "y": 1509}, {"s": "green", "x": 14.98, "y": 1532}, {"s": "green", "x": 15.19, "y": 1534},
      {"s": "cyan", "x": 0, "y": 0}, {"s": "cyan", "x": 1.19, "y": 14}, {"s": "cyan", "x": 3.34, "y": 19}, {"s": "cyan", "x": 4.42, "y": 14}, {"s": "cyan", "x": 4.57, "y": 42}, {"s": "cyan", "x": 5.5, "y": 88}, {"s": "cyan", "x": 6.14, "y": 105}, {"s": "cyan", "x": 7.22, "y": 111}, {"s": "cyan", "x": 7.65, "y": 88}, {"s": "cyan", "x": 7.87, "y": 111}, {"s": "cyan", "x": 8.3, "y": 82}, {"s": "cyan", "x": 8.62, "y": 100}, {"s": "cyan", "x": 8.94, "y": 145}, {"s": "cyan", "x": 9.81, "y": 134}, {"s": "cyan", "x": 10.88, "y": 128}, {"s": "cyan", "x": 11.96, "y": 123}, {"s": "cyan", "x": 13.04, "y": 132}, {"s": "cyan", "x": 13.69, "y": 134}, {"s": "cyan", "x": 14.12, "y": 226}, {"s": "cyan", "x": 14.76, "y": 306}, {"s": "cyan", "x": 15.41, "y": 455}, {"s": "cyan", "x": 16.27, "y": 684}, {"s": "cyan", "x": 16.92, "y": 913}, {"s": "cyan", "x": 17.56, "y": 1142}, {"s": "cyan", "x": 18.21, "y": 1314}, {"s": "cyan", "x": 18.86, "y": 1371}, {"s": "cyan", "x": 19.72, "y": 1440}, {"s": "cyan", "x": 20.58, "y": 1474}, {"s": "cyan", "x": 21.01, "y": 1480}, {"s": "cyan", "x": 21.12, "y": 1474},
      {"s": "orange", "x": 0, "y": 0}, {"s": "orange", "x": 2.26, "y": 19}, {"s": "orange", "x": 4.42, "y": 31}, {"s": "orange", "x": 6.14, "y": 25}, {"s": "orange", "x": 6.57, "y": 17}, {"s": "orange", "x": 7.22, "y": 31}, {"s": "orange", "x": 8.73, "y": 48}, {"s": "orange", "x": 9.81, "y": 65}, {"s": "orange", "x": 10.67, "y": 94}, {"s": "orange", "x": 11.31, "y": 134}, {"s": "orange", "x": 11.96, "y": 191}, {"s": "orange", "x": 12.61, "y": 226}, {"s": "orange", "x": 13.36, "y": 266}, {"s": "orange", "x": 14.12, "y": 249}, {"s": "orange", "x": 14.55, "y": 249}, {"s": "orange", "x": 15.19, "y": 294}, {"s": "orange", "x": 15.63, "y": 323}, {"s": "orange", "x": 16.06, "y": 312}, {"s": "orange", "x": 16.49, "y": 340}, {"s": "orange", "x": 17.35, "y": 312}, {"s": "orange", "x": 17.78, "y": 397}, {"s": "orange", "x": 18.21, "y": 455}, {"s": "orange", "x": 18.64, "y": 495}, {"s": "orange", "x": 19.18, "y": 506}, {"s": "orange", "x": 19.5, "y": 569}, {"s": "orange", "x": 20.15, "y": 684}, {"s": "orange", "x": 20.58, "y": 798}, {"s": "orange", "x": 21.01, "y": 913}, {"s": "orange", "x": 21.44, "y": 1027}, {"s": "orange", "x": 21.88, "y": 1142}, {"s": "orange", "x": 22.31, "y": 1234}, {"s": "orange", "x": 22.63, "y": 1274}, {"s": "orange", "x": 23.6, "y": 1297}, {"s": "orange", "x": 24.89, "y": 1348}, {"s": "orange", "x": 26.62, "y": 1406}, {"s": "orange", "x": 28.13, "y": 1434}, {"s": "orange", "x": 29.63, "y": 1451}, {"s": "orange", "x": 30.0, "y": 1446}, {"s": "orange", "x": 30.06, "y": 1371}, {"s": "orange", "x": 30.11, "y": 1337}
    ]
  }
}
